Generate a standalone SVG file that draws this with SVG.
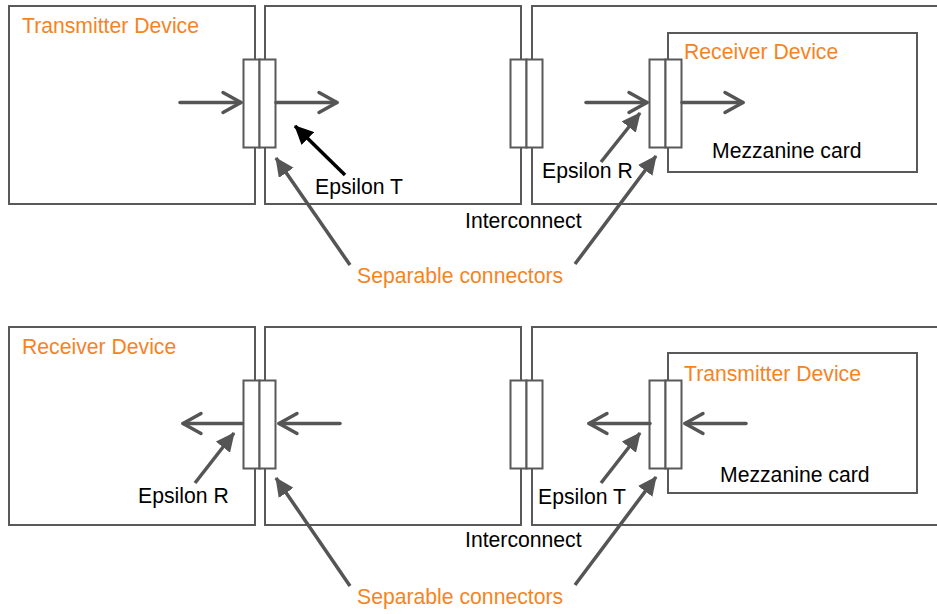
<svg xmlns="http://www.w3.org/2000/svg" width="937" height="614" viewBox="0 0 937 614">
  <style>
    .box { fill: #fff; stroke: #595959; stroke-width: 2; }
    .conn { fill: #fff; stroke: #595959; stroke-width: 2; }
    .sig { stroke: #555; stroke-width: 3.5; fill: none; stroke-linecap: round; marker-end: url(#open); }
    .ptr { stroke: #555; stroke-width: 3.5; fill: none; marker-end: url(#fillgray); }
    .ptrk { stroke: #000; stroke-width: 3.5; fill: none; marker-end: url(#fillblack); }
    text { font-family: "Liberation Sans", Arial, sans-serif; font-size: 21.2px; fill: #000; }
    .org { fill: #F5841F; }
  </style>
  <defs>
    <marker id="open" viewBox="0 0 24 26" refX="21" refY="13" markerWidth="24" markerHeight="26" orient="auto" markerUnits="userSpaceOnUse">
      <path d="M3,3 L21,13 L3,23" fill="none" stroke="#555" stroke-width="3.5" stroke-linecap="round" stroke-linejoin="round"/>
    </marker>
    <marker id="fillgray" viewBox="0 0 19 18" refX="18" refY="9" markerWidth="19" markerHeight="18" orient="auto" markerUnits="userSpaceOnUse">
      <path d="M0,0 L19,9 L0,18 Z" fill="#555"/>
    </marker>
    <marker id="fillblack" viewBox="0 0 19 18" refX="18" refY="9" markerWidth="19" markerHeight="18" orient="auto" markerUnits="userSpaceOnUse">
      <path d="M0,0 L19,9 L0,18 Z" fill="#000"/>
    </marker>
  </defs>

  <!-- Upper scenario: transmitter on the main board, receiver on the mezzanine -->
  <g id="tx-device-top">
    <rect class="box" x="9" y="6" width="246" height="198"/>
    <text class="org" x="22" y="33">Transmitter Device</text>
  </g>
  <g id="interconnect-top">
    <rect class="box" x="265" y="6" width="256" height="198"/>
    <text x="465" y="228">Interconnect</text>
  </g>
  <g id="board-top">
    <rect class="box" x="532" y="6" width="420" height="198"/>
  </g>
  <g id="mezzanine-top">
    <rect class="box" x="668" y="33" width="249" height="139"/>
    <text class="org" x="684" y="59">Receiver Device</text>
    <text x="712" y="158">Mezzanine card</text>
  </g>
  <g id="connector-top-1">
    <rect class="conn" x="243.5" y="59.5" width="16" height="88"/>
    <rect class="conn" x="259.5" y="59.5" width="16" height="88"/>
  </g>
  <g id="connector-top-2">
    <rect class="conn" x="510.5" y="59.5" width="16" height="88"/>
    <rect class="conn" x="526.5" y="59.5" width="16" height="88"/>
  </g>
  <g id="connector-top-3">
    <rect class="conn" x="649.5" y="59.5" width="16" height="88"/>
    <rect class="conn" x="665.5" y="59.5" width="16" height="88"/>
  </g>
  <g id="labels-top">
    <text x="315" y="194">Epsilon T</text>
    <text x="542" y="178">Epsilon R</text>
    <text class="org" x="357" y="283">Separable connectors</text>
  </g>

  <!-- Lower scenario: receiver on the main board, transmitter on the mezzanine -->
  <g id="rx-device-bottom">
    <rect class="box" x="9" y="327" width="246" height="198"/>
    <text class="org" x="22" y="354">Receiver Device</text>
  </g>
  <g id="interconnect-bottom">
    <rect class="box" x="265" y="327" width="256" height="198"/>
    <text x="465" y="547">Interconnect</text>
  </g>
  <g id="board-bottom">
    <rect class="box" x="532" y="327" width="420" height="198"/>
  </g>
  <g id="mezzanine-bottom">
    <rect class="box" x="668" y="353" width="249" height="140"/>
    <text class="org" x="684" y="381">Transmitter Device</text>
    <text x="720" y="482">Mezzanine card</text>
  </g>
  <g id="connector-bottom-1">
    <rect class="conn" x="243.5" y="380.5" width="16" height="88"/>
    <rect class="conn" x="259.5" y="380.5" width="16" height="88"/>
  </g>
  <g id="connector-bottom-2">
    <rect class="conn" x="510.5" y="380.5" width="16" height="88"/>
    <rect class="conn" x="526.5" y="380.5" width="16" height="88"/>
  </g>
  <g id="connector-bottom-3">
    <rect class="conn" x="649.5" y="380.5" width="16" height="88"/>
    <rect class="conn" x="665.5" y="380.5" width="16" height="88"/>
  </g>
  <g id="labels-bottom">
    <text x="138" y="503">Epsilon R</text>
    <text x="538" y="504">Epsilon T</text>
    <text class="org" x="357" y="604">Separable connectors</text>
  </g>

  <g id="connectors">
    <!-- signal flow, upper -->
    <line class="sig" x1="180" y1="102.5" x2="241" y2="102.5"/>
    <line class="sig" x1="276" y1="102.5" x2="337" y2="102.5"/>
    <line class="sig" x1="586" y1="102.5" x2="647" y2="102.5"/>
    <line class="sig" x1="682" y1="102.5" x2="743" y2="102.5"/>
    <!-- pointers, upper -->
    <line class="ptrk" x1="345" y1="175" x2="295" y2="126"/>
    <line class="ptr" x1="601" y1="162" x2="640" y2="113"/>
    <line class="ptr" x1="350" y1="265" x2="276" y2="158"/>
    <line class="ptr" x1="575" y1="264" x2="656" y2="156"/>

    <!-- signal flow, lower -->
    <line class="sig" x1="242" y1="423.5" x2="183" y2="423.5"/>
    <line class="sig" x1="340" y1="423.5" x2="279" y2="423.5"/>
    <line class="sig" x1="650" y1="423.5" x2="589" y2="423.5"/>
    <line class="sig" x1="746" y1="423.5" x2="685" y2="423.5"/>
    <!-- pointers, lower -->
    <line class="ptr" x1="195" y1="483" x2="234" y2="433"/>
    <line class="ptr" x1="601" y1="483" x2="640" y2="433"/>
    <line class="ptr" x1="350" y1="586" x2="276" y2="478"/>
    <line class="ptr" x1="575" y1="585" x2="656" y2="477"/>
  </g>
</svg>
